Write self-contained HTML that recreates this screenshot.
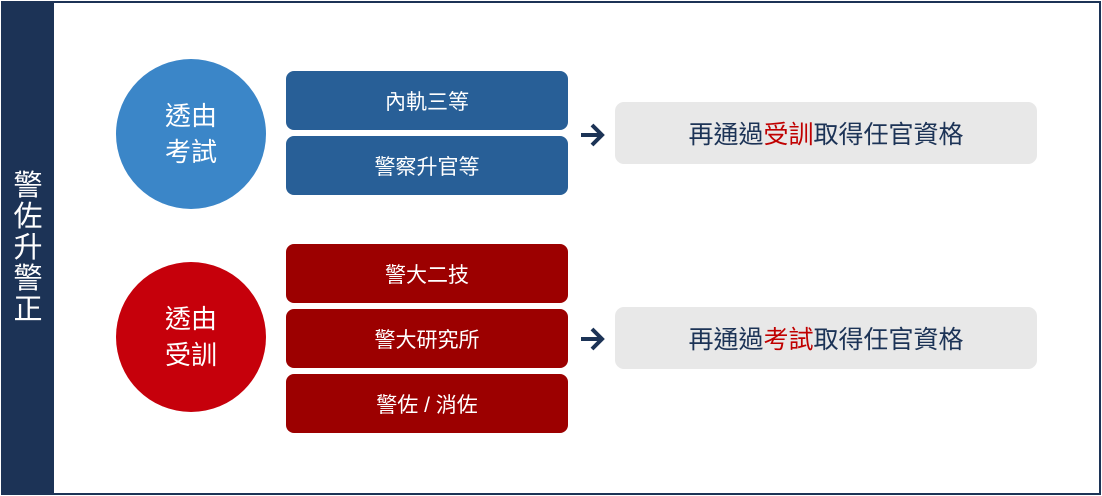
<!DOCTYPE html>
<html><head><meta charset="utf-8"><style>
body{margin:0;width:1102px;height:496px;background:#fff;position:relative;overflow:hidden;font-family:"Liberation Sans","Noto Sans CJK TC",sans-serif}
.frame{position:absolute;left:1px;top:1px;width:1096px;height:490px;border:2px solid #1c3356}
.bar{position:absolute;left:2px;top:2px;width:52px;height:492px;background:#1c3356;color:#fff;font-size:29px;line-height:31px;display:flex;flex-direction:column;align-items:center;justify-content:center}
.c{position:absolute;width:150px;height:150px;border-radius:50%;color:#fff;font-size:26px;line-height:36px;display:flex;align-items:center;justify-content:center;text-align:center}
.b{position:absolute;left:286px;width:282px;height:59px;border-radius:8px;color:#fff;font-size:21px;display:flex;align-items:center;justify-content:center}
.blue{background:#285f97}.red{background:#9c0000}
.g{position:absolute;left:615px;width:422px;height:62px;border-radius:9px;background:#e8e8e8;color:#1c3356;font-size:25px;display:flex;align-items:center;justify-content:center}
.g span{color:#c00000}
svg{position:absolute}
</style></head><body>
<div class="frame"></div>
<div class="bar"><div>警</div><div>佐</div><div>升</div><div>警</div><div>正</div></div>
<div class="c" style="left:116px;top:59px;background:#3b86c8">透由<br>考試</div>
<div class="c" style="left:116px;top:262px;background:#c6000b">透由<br>受訓</div>
<div class="b blue" style="top:71px">內軌三等</div>
<div class="b blue" style="top:136px">警察升官等</div>
<div class="b red" style="top:244px">警大二技</div>
<div class="b red" style="top:309px">警大研究所</div>
<div class="b red" style="top:374px">警佐 / 消佐</div>
<svg style="left:578px;top:122px" width="30" height="26"><path d="M3 13H24M14 3L24 13L14 23" stroke="#1c3356" stroke-width="4" fill="none"/></svg>
<svg style="left:578px;top:326px" width="30" height="26"><path d="M3 13H24M14 3L24 13L14 23" stroke="#1c3356" stroke-width="4" fill="none"/></svg>
<div class="g" style="top:102px">再通過<span>受訓</span>取得任官資格</div>
<div class="g" style="top:307px">再通過<span>考試</span>取得任官資格</div>
</body></html>
